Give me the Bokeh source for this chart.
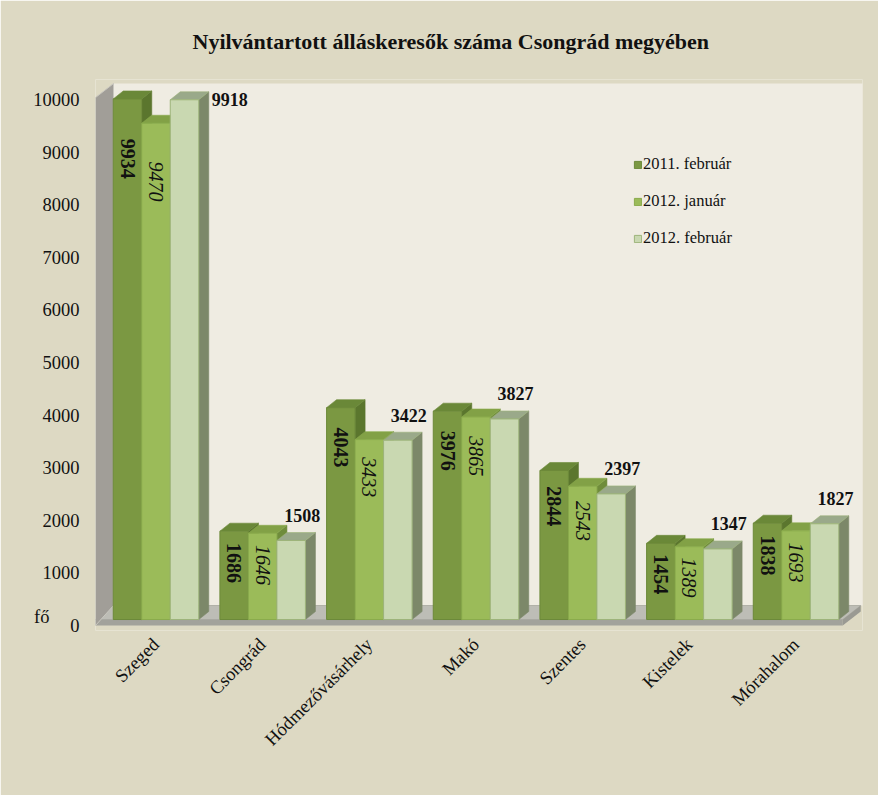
import math
from bokeh.plotting import figure
from bokeh.models import (Range1d, LinearAxis, FixedTicker, Legend,
                          LegendItem, ColumnDataSource)
from bokeh.embed import file_html
from bokeh.resources import INLINE

# ---------------- data ----------------
title_text = "Nyilvántartott álláskeresők száma Csongrád megyében"
cities = ["Szeged", "Csongrád", "Hódmezővásárhely", "Makó", "Szentes", "Kistelek", "Mórahalom"]
series_names = ["2011. február", "2012. január", "2012. február"]
feb_2011 = [9934, 1686, 4043, 3976, 2844, 1454, 1838]
jan_2012 = [9470, 1646, 3433, 3865, 2543, 1389, 1693]
feb_2012 = [9918, 1508, 3422, 3827, 2397, 1347, 1827]
y_ticks = [0, 1000, 2000, 3000, 4000, 5000, 6000, 7000, 8000, 9000, 10000]
unit_label = "fő"

series_values = [feb_2011, jan_2012, feb_2012]

# ---------------- style ----------------
FONT = "Liberation Serif"
OUTER_BG = "#DDD9C3"
WALL_BG = "#EFECE2"
front_col = ["#7B9842", "#9BBB59", "#C9D8B1"]
top_col = ["#6A8838", "#82A146", "#9AA98A"]
side_col = ["#5B762E", "#6F8C3B", "#7C8869"]
edge_col = ["#6C8939", "#8AAB4C", "#9DB47A"]

PXX = 106.67      # px per category
PXY = 0.0525      # px per unit value
n = len(cities)

W, H = 878, 795
FL, FR, FT, FB = 95, 862, 78, 630     # frame edges (px)
x_lo, x_hi = (FL - 155.5) / PXX, (FR - 155.5) / PXX
y_lo, y_hi = (619 - FB) / PXY, (619 - FT) / PXY

p = figure(width=W, height=H, output_backend="svg", toolbar_location=None,
           x_range=Range1d(x_lo, x_hi), y_range=Range1d(y_lo, y_hi),
           y_axis_location=None, min_border_left=FL, min_border_right=W - FR,
           min_border_top=FT, min_border_bottom=H - FB)
p.background_fill_color = OUTER_BG
p.border_fill_color = OUTER_BG
p.outline_line_color = None
p.grid.visible = False

p.title.text = title_text
p.title.align = "left"
p.title.offset = 97
p.title.standoff = 52
p.title.text_font = FONT
p.title.text_font_size = "22px"
p.title.text_font_style = "bold"
p.title.text_color = "#111111"

# ---------- 3D scenery: back wall, left wall, floor ----------
fdx = 18 / PXX
fdy = 14 / PXY
strip = 6 / PXY
wall_top = 9960
p.quad(left=[x_lo + fdx], right=[x_hi + 0.03], bottom=[fdy], top=[wall_top + fdy],
       fill_color=WALL_BG, line_color=None)
floor_r = n - 1 + 0.438
p.patch([x_lo, floor_r, floor_r + fdx, x_lo + fdx], [0, 0, fdy, fdy],
        fill_color="#BDBDB6", line_color="#B0B0A8")
p.patch([x_lo, floor_r, floor_r, x_lo], [0, 0, -strip, -strip],
        fill_color="#A2A29B", line_color=None)
p.patch([floor_r, floor_r + fdx, floor_r + fdx, floor_r], [-strip, fdy - strip, fdy, 0],
        fill_color="#9A9A93", line_color=None)
p.patch([x_lo, x_lo, x_lo + fdx, x_lo + fdx],
        [-strip, wall_top, wall_top + fdy, fdy],
        fill_color="#A19E98", line_color="#C9C7BF")

# ---------- bars ----------
bw = 28.5 / PXX
bdx = 10 / PXX
bdy = 8 / PXY
front_renderers = []
for s, vals in enumerate(series_values):
    xc = [i + (s - 1) * bw for i in range(n)]
    L = [c - bw / 2 for c in xc]
    R = [c + bw / 2 for c in xc]
    tops_x = [[l, r, r + bdx, l + bdx] for l, r in zip(L, R)]
    tops_y = [[v, v, v + bdy, v + bdy] for v in vals]
    side_x = [[r, r, r + bdx, r + bdx] for r in R]
    side_y = [[0, v, v + bdy, bdy] for v in vals]
    p.patches(side_x, side_y, fill_color=side_col[s], line_color=side_col[s], line_width=0.6)
    p.patches(tops_x, tops_y, fill_color=top_col[s], line_color=edge_col[s], line_width=0.6)
    fr = p.quad(left=L, right=R, bottom=[0] * n, top=vals,
                fill_color=front_col[s], line_color=edge_col[s], line_width=1)
    front_renderers.append(fr)

    if s < 2:
        offs = [6 + 0.065 * v * PXY for v in vals]
        src = ColumnDataSource(dict(x=xc, y=vals, t=[str(v) for v in vals], off=offs))
        p.text(x="x", y="y", text="t", y_offset="off", source=src, angle=-math.pi / 2,
               text_align="left", text_baseline="middle", text_font=FONT,
               text_font_size="20px", text_color="#111111",
               text_font_style="bold" if s == 0 else "italic")
    else:
        xo, yo, al = [], [], []
        for v in vals:
            if v + 25 / PXY > 10000:
                xo.append(bw / 2 * PXX + 13); yo.append(0); al.append("left")
            else:
                xo.append(11); yo.append(-25); al.append("center")
        src = ColumnDataSource(dict(x=xc, y=vals, t=[str(v) for v in vals],
                                    xo=xo, yo=yo, al=al))
        p.text(x="x", y="y", text="t", x_offset="xo", y_offset="yo", text_align="al",
               source=src, text_baseline="middle", text_font=FONT,
               text_font_size="18px", text_font_style="bold", text_color="#111111")

# ---------- axes ----------
p.xaxis.ticker = FixedTicker(ticks=list(range(n)))
p.xaxis.major_label_overrides = {i: c for i, c in enumerate(cities)}
p.xaxis.major_label_orientation = math.pi / 4
p.xaxis.major_label_text_font = FONT
p.xaxis.major_label_text_font_size = "18.5px"
p.xaxis.major_label_text_color = "#111111"
p.xaxis.major_label_standoff = 5
p.xaxis.axis_line_color = None
p.xaxis.major_tick_line_color = None
p.xaxis.minor_tick_line_color = None

# tick labels sit slightly lower than the bar baseline (perspective of the floor)
p.extra_y_ranges = {"lab": Range1d((625 - FB) / 0.0527, (625 - FT) / 0.0527)}
yax = LinearAxis(y_range_name="lab", ticker=FixedTicker(ticks=y_ticks))
yax.axis_line_color = None
yax.major_tick_line_color = None
yax.minor_tick_line_color = None
yax.major_label_text_font = FONT
yax.major_label_text_font_size = "18.5px"
yax.major_label_text_color = "#111111"
yax.major_label_standoff = 10
p.add_layout(yax, "left")

# unit label "fő" next to the zero tick
unit_tick = 170
uax = LinearAxis(y_range_name="lab", ticker=FixedTicker(ticks=[unit_tick]),
                 major_label_overrides={unit_tick: unit_label})
uax.axis_line_color = None
uax.major_tick_line_color = None
uax.minor_tick_line_color = None
uax.major_label_text_font = FONT
uax.major_label_text_font_size = "18.5px"
uax.major_label_text_color = "#111111"
uax.major_label_standoff = -25
p.add_layout(uax, "left")

# ---------- legend ----------
legend = Legend(items=[LegendItem(label=nm, renderers=[r]) for nm, r in zip(series_names, front_renderers)],
                location=(538, 382), padding=0, margin=0, spacing=17,
                glyph_width=9, glyph_height=9, label_standoff=1, label_height=16,
                label_text_font=FONT, label_text_font_size="16.5px",
                label_text_color="#111111",
                background_fill_alpha=0, border_line_color=None)
p.add_layout(legend)

open("out.html", "w").write(file_html(p, INLINE))
